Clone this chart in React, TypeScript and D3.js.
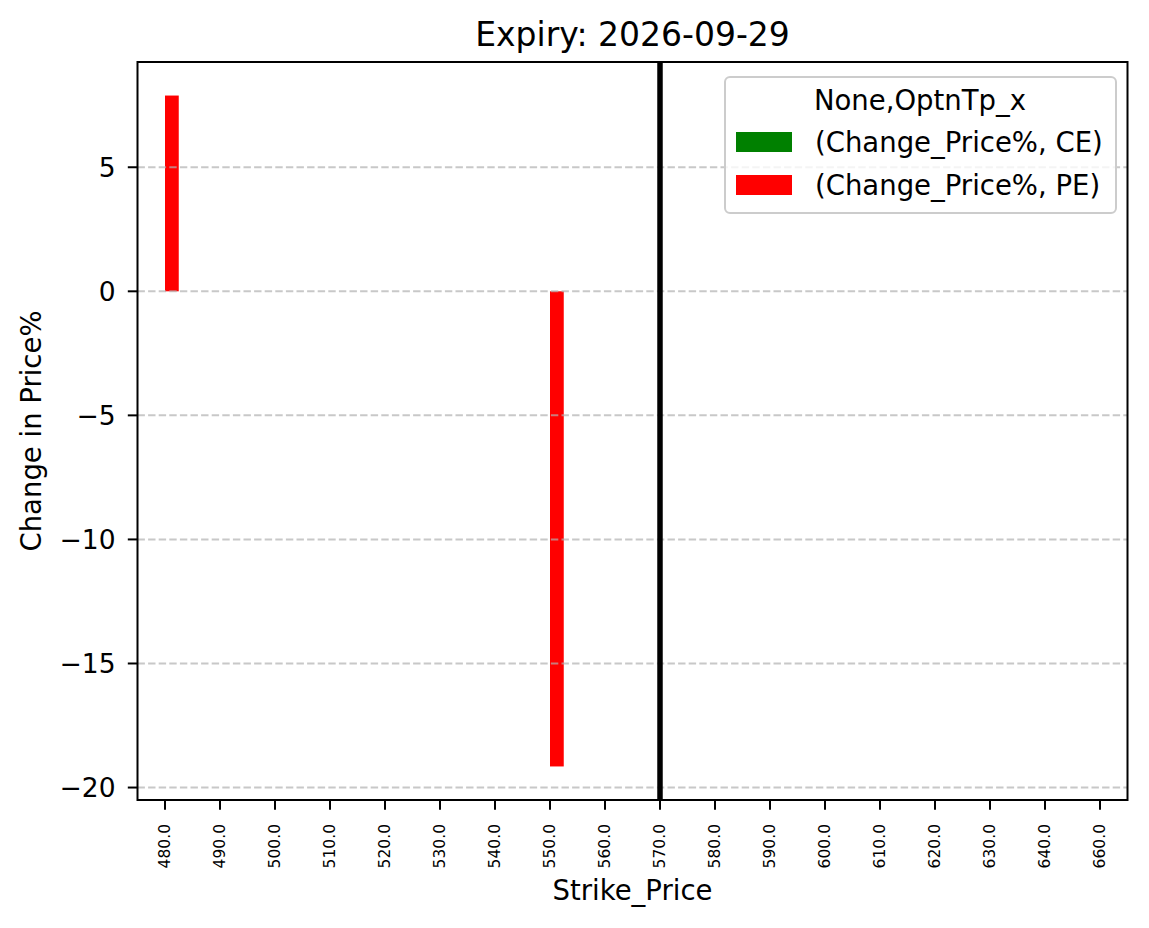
import React from "react";
import * as d3 from "d3";

// option chain change-in-price, one expiry
const strikes = [480, 490, 500, 510, 520, 530, 540, 550, 560, 570, 580, 590, 600, 610, 620, 630, 640, 660];
const ceChange = strikes.map(() => 0);
const peChange = [7.89, 0, 0, 0, 0, 0, 0, -19.15, 0, 0, 0, 0, 0, 0, 0, 0, 0, 0];
const spotStrike = 570;
const yTicks = [5, 0, -5, -10, -15, -20];
const seriesNames = ["(Change_Price%, CE)", "(Change_Price%, PE)"];
const seriesColors = ["green", "red"];

const W = 1149, H = 928;
const margin = { top: 62, right: 21.5, bottom: 128, left: 137.5 };
const FONT = "DejaVu Sans, sans-serif";

export default function App() {
  const left = margin.left, right = W - margin.right;
  const top = margin.top, bottom = H - margin.bottom;
  const n = strikes.length;

  const x = d3.scaleLinear().domain([-0.5, n - 0.5]).range([left, right]);
  const all = [...ceChange, ...peChange, 0];
  const lo = d3.min(all) as number, hi = d3.max(all) as number;
  const pad = (hi - lo) * 0.05;
  const y = d3.scaleLinear().domain([lo - pad, hi + pad]).range([bottom, top]);

  const w = 0.25;
  const spotIdx = strikes.indexOf(spotStrike);
  const fmt = (v: number) => (v < 0 ? "\u2212" + Math.abs(v) : String(v));

  return (
    <svg width={W} height={H} style={{ position: "absolute", left: 0, top: 0, background: "#fff" }} fontFamily={FONT}>
      {/* bars */}
      {strikes.map((s, i) => (
        <g key={s}>
          {ceChange[i] !== 0 && (
            <rect x={x(i - w)} width={x(i) - x(i - w)}
              y={y(Math.max(0, ceChange[i]))} height={Math.abs(y(ceChange[i]) - y(0))} fill={seriesColors[0]} />
          )}
          {peChange[i] !== 0 && (
            <rect x={x(i)} width={x(i + w) - x(i)}
              y={y(Math.max(0, peChange[i]))} height={Math.abs(y(peChange[i]) - y(0))} fill={seriesColors[1]} />
          )}
        </g>
      ))}
      {/* grid */}
      {yTicks.map((t) => (
        <line key={t} x1={left} x2={right} y1={y(t)} y2={y(t)} stroke="#b0b0b0" strokeOpacity={0.7}
          strokeWidth={2} strokeDasharray="7.4,3.2" />
      ))}
      {/* spot line */}
      <line x1={x(spotIdx)} x2={x(spotIdx)} y1={top} y2={bottom} stroke="#000" strokeWidth={5.5} />
      {/* spines */}
      <rect x={left} y={top} width={right - left} height={bottom - top} fill="none" stroke="#000" strokeWidth={2} />
      {/* y axis */}
      {yTicks.map((t) => (
        <g key={t}>
          <line x1={left - 9.7} x2={left} y1={y(t)} y2={y(t)} stroke="#000" strokeWidth={2} />
          <text x={left - 22} y={y(t)} dy="0.36em" textAnchor="end" fontSize={26.5}>{fmt(t)}</text>
        </g>
      ))}
      {/* x axis */}
      {strikes.map((s, i) => (
        <g key={s}>
          <line x1={x(i)} x2={x(i)} y1={bottom} y2={bottom + 9.7} stroke="#000" strokeWidth={2} />
          <text transform={`translate(${x(i)},${bottom + 24}) rotate(-90)`} dy="0.35em" textAnchor="end" fontSize={15.5}>
            {s.toFixed(1)}
          </text>
        </g>
      ))}
      <text x={(left + right) / 2} y={900} textAnchor="middle" fontSize={27.5}>Strike_Price</text>
      <text transform={`translate(41,${(top + bottom) / 2}) rotate(-90)`} textAnchor="middle" fontSize={27.5}>Change in Price%</text>
      <text x={(left + right) / 2} y={46} textAnchor="middle" fontSize={33}>Expiry: 2026-09-29</text>
      {/* legend */}
      <g>
        <rect x={725} y={77} width={391} height={136} rx={5} fill="#fff" fillOpacity={0.8} stroke="#cccccc" strokeWidth={2} />
        <text x={920} y={110} textAnchor="middle" fontSize={27.5}>None,OptnTp_x</text>
        {seriesNames.map((name, k) => (
          <g key={name}>
            <rect x={736} y={132 + k * 43} width={56} height={20} fill={seriesColors[k]} />
            <text x={815} y={142 + k * 43} dy="0.36em" fontSize={27.5}>{name}</text>
          </g>
        ))}
      </g>
    </svg>
  );
}
